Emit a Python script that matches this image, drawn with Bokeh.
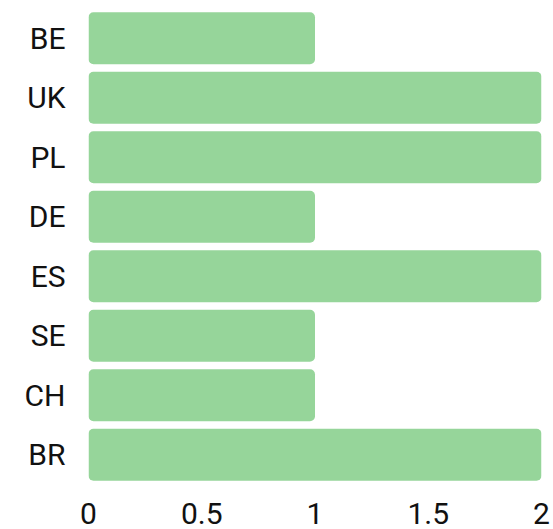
from bokeh.plotting import figure
from bokeh.models import FixedTicker, Range1d, FactorRange
from bokeh.embed import file_html
from bokeh.resources import INLINE

categories = ["BE", "UK", "PL", "DE", "ES", "SE", "CH", "BR"]
values = [1, 2, 2, 1, 2, 1, 1, 2]
x_ticks = [0, 0.5, 1, 1.5, 2]
x_tick_labels = ["0", "0.5", "1", "1.5", "2"]

p = figure(width=553, height=529, output_backend="svg", toolbar_location=None,
           y_range=FactorRange(*list(reversed(categories)), range_padding=0),
           x_range=Range1d(0, 2),
           min_border_left=88, min_border_right=12, min_border_top=8, min_border_bottom=45)

p.hbar(y=categories, right=values, left=0, height=0.875, color="#96d59a",
       line_color=None, border_radius=5)

p.outline_line_color = None
p.xgrid.grid_line_color = None
p.ygrid.grid_line_color = None

for ax in (p.xaxis[0], p.yaxis[0]):
    ax.axis_line_color = None
    ax.major_tick_line_color = None
    ax.minor_tick_line_color = None
    ax.major_label_text_font = "Roboto"
    ax.major_label_text_font_size = "30px"
    ax.major_label_text_color = "#111111"
    ax.major_tick_out = 0
    ax.major_tick_in = 0

p.xaxis.ticker = FixedTicker(ticks=x_ticks)
p.xaxis.major_label_overrides = {t: l for t, l in zip(x_ticks, x_tick_labels)}
p.xaxis.major_label_standoff = 18
p.yaxis.major_label_standoff = 23

with open("out.html", "w") as f:
    f.write(file_html(p, INLINE))
